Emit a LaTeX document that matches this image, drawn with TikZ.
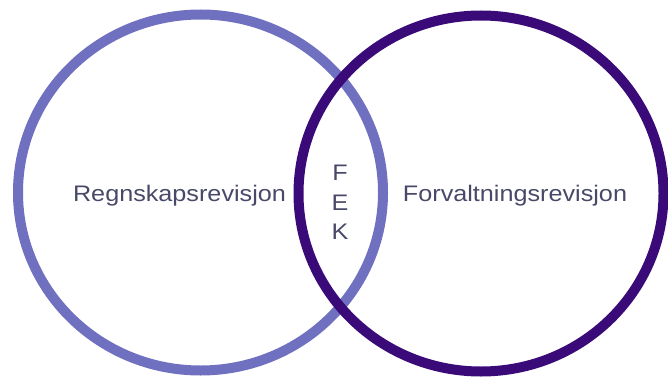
\documentclass[tikz,border=0pt]{standalone}
\usepackage{fontspec}
\setmainfont{Liberation Sans}
\usepackage{tikz}
\usetikzlibrary{shapes.geometric}
\usetikzlibrary{positioning}
\definecolor{lightpurple}{RGB}{112,112,192}
\definecolor{darkpurple}{RGB}{58,10,120}
\definecolor{textgray}{RGB}{72,72,104}

\begin{document}
\begin{tikzpicture}[
            x = 1pt, y = 1pt, % one unit per pixel
            inner sep = 0pt,
            semithick % line style
            ]

        \tikzstyle{ring}=[
            ellipse,
            line width = 10pt,
            minimum width = 365pt,
            minimum height = 356pt
        ]
        \tikzstyle{label}=[
            text = textgray,
            font = \fontsize{22.5}{27}\selectfont,
            xscale = 1.12 % text is stretched sideways
        ]

        \useasboundingbox (0,0) rectangle (668,378);

	% circles
	\node[ring, draw = lightpurple] (R) at (200.5,185.5) {};
	\node[ring, draw = darkpurple] (F) at (481,184.5) {};

	% labels
	\node[label, anchor = base] (RT) at (179.5,177) {Regnskapsrevisjon};
	\node[label, anchor = base] (FT) at (515,177) {Forvaltningsrevisjon};

	% overlap
	\node[label, anchor = base] (E) at (340,168) {E};
	\node[label, above = 13pt of E.north] (Fl) {F};
	\node[label, below = 13pt of E.south] (K) {K};

\end{tikzpicture}
\end{document}
